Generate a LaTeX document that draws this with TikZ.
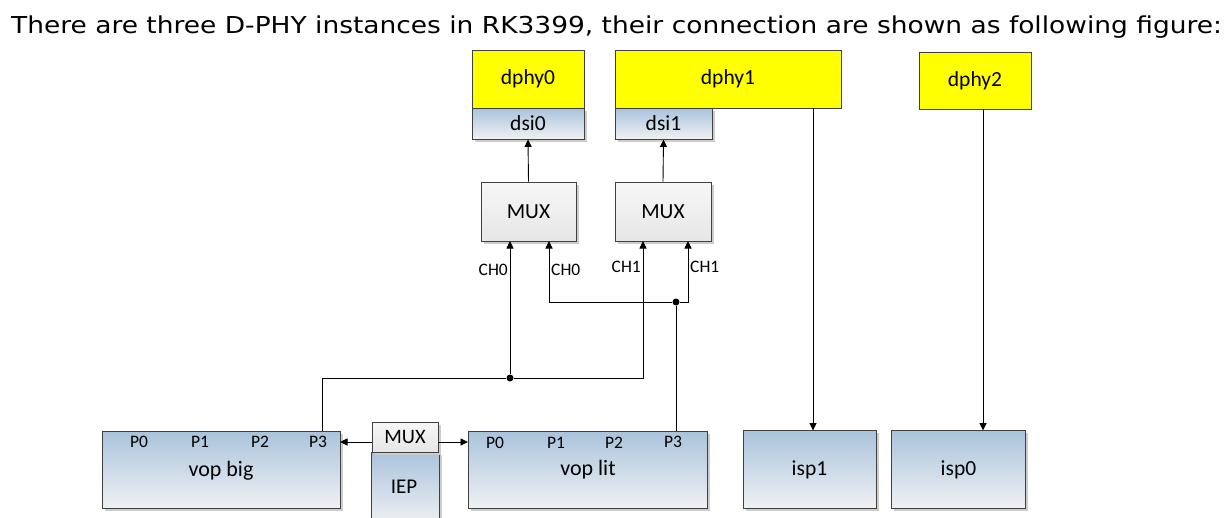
\documentclass[tikz,border=0pt]{standalone}
\usepackage{fontspec}
\setmainfont{Carlito}
\newfontfamily\titlefont[FakeStretch=1.135]{DejaVu Sans}
\usetikzlibrary{arrows.meta,shadows}
\definecolor{edge}{RGB}{64,64,64}
\definecolor{phyyellow}{RGB}{255,255,0}
\definecolor{bluetop}{RGB}{169,195,220}
\definecolor{bluebot}{RGB}{240,241,243}
\definecolor{greytop}{RGB}{247,247,247}
\definecolor{greybot}{RGB}{230,230,230}
\definecolor{shadowgrey}{RGB}{205,205,205}
\tikzset{
  box/.style={draw=edge, line width=0.9pt, inner sep=0pt, font=\fontsize{21.5}{24}\selectfont},
  yel/.style={box, fill=phyyellow},
  blu/.style={box, top color=bluetop, bottom color=bluebot, drop shadow={shadow xshift=2.5pt, shadow yshift=-2.5pt, fill=shadowgrey, opacity=1}},
  mux/.style={box, top color=greytop, bottom color=greybot, drop shadow={shadow xshift=2.5pt, shadow yshift=-2.5pt, fill=shadowgrey, opacity=1}},
  wire/.style={line width=0.9pt, black},
  arr/.style={wire, -{Triangle[length=7.5pt,width=7pt]}},
  dot/.style={circle, fill=black, inner sep=0pt, minimum size=7pt},
  plab/.style={font=\fontsize{17.5}{19}\selectfont, inner sep=0pt},
  vlab/.style={font=\fontsize{22}{24}\selectfont, inner sep=0pt},
  chlab/.style={font=\fontsize{17.5}{19}\selectfont, inner sep=0pt},
}
\begin{document}
\begin{tikzpicture}[x=1pt,y=-1pt]
\useasboundingbox (0,0) rectangle (1232,517);
\fill[white] (0,0) rectangle (1232,517);
\node[anchor=base west, inner sep=0pt, font=\titlefont\fontsize{23.3}{26}\selectfont] (title) at (11,33) {There are three D-PHY instances in RK3399, their connection are shown as following figure:};
% top boxes
\node[yel, minimum width=112pt, minimum height=58pt] (dphy0) at (528,79) {dphy0};
\node[blu, minimum width=112pt, minimum height=31pt] (dsi0) at (528,123.5) {dsi0};
\node[yel, minimum width=226pt, minimum height=58pt] (dphy1) at (728,79) {dphy1};
\node[blu, minimum width=97pt, minimum height=31pt] (dsi1) at (663.5,123.5) {dsi1};
\node[yel, minimum width=112pt, minimum height=57pt] (dphy2) at (975,80.5) {dphy2};
% muxes
\node[mux, minimum width=95pt, minimum height=59pt] (mux0) at (528.5,211.5) {MUX};
\node[mux, minimum width=96pt, minimum height=59pt] (mux1) at (663,211.5) {MUX};
% bottom boxes
\node[blu, minimum width=238pt, minimum height=77pt] (vopbig) at (221,469.5) {};
\node[blu, minimum width=239pt, minimum height=77pt] (voplit) at (587.5,469.5) {};
\node[blu, minimum width=68pt, minimum height=72pt] (iep) at (405,488) {};
\node[mux, minimum width=66pt, minimum height=30pt, font=\fontsize{20.5}{22}\selectfont] (vmux) at (405,437) {MUX};
\node[inner sep=0pt, font=\fontsize{21}{24}\selectfont] (ieplab) at (404,487) {IEP};
\node[blu, minimum width=133pt, minimum height=78pt] (isp1) at (809.5,469.5) {isp1};
\node[blu, minimum width=134pt, minimum height=78pt] (isp0) at (958.5,469.5) {isp0};
% labels in vop boxes
\node[plab] (bp0) at (139,442) {P0};
\node[plab] (bp1) at (200,442) {P1};
\node[plab] (bp2) at (260,442) {P2};
\node[plab] (bp3) at (318,442) {P3};
\node[vlab] (vbl) at (221,471) {vop big};
\node[plab] (lp0) at (495,443) {P0};
\node[plab] (lp1) at (556,443) {P1};
\node[plab] (lp2) at (614,443) {P2};
\node[plab] (lp3) at (673,442) {P3};
\node[vlab] (vll) at (588,470) {vop lit};
% CH labels
\node[chlab, anchor=east] (ch0a) at (508,270) {CH0};
\node[chlab, anchor=west] (ch0b) at (551,270) {CH0};
\node[chlab, anchor=east] (ch1a) at (641,267) {CH1};
\node[chlab, anchor=west] (ch1b) at (690,267) {CH1};
% coordinates
\coordinate (m0a) at (510,241);
\coordinate (m0b) at (549,241);
\coordinate (m1a) at (643,241);
\coordinate (m1b) at (688,241);
\node[dot] (j1) at (676,302) {};
\node[dot] (j2) at (510,378) {};
\coordinate (bigtop) at (322,431);
\coordinate (littop) at (676,431);
\coordinate (d1out) at (813,108);
\coordinate (isp1in) at (813,430.5);
\coordinate (d2out) at (983,109);
\coordinate (isp0in) at (983,430.5);
\coordinate (vmuxl) at (372,442);
\coordinate (vmuxr) at (438,442);
\coordinate (bigr) at (340,442);
\coordinate (litl) at (468,442);
% connectors
\draw[arr] (mux0.north) -- (dsi0.south);
\draw[arr] (mux1.north) -- (dsi1.south);
\draw[arr] (d1out) -- (isp1in);
\draw[arr] (d2out) -- (isp0in);
\draw[wire] (littop) -- (j1);
\draw[arr] (j1) -- (m1b |- j1) -- (m1b);
\draw[arr] (j1) -- (m0b |- j1) -- (m0b);
\draw[wire] (bigtop) -- (bigtop |- j2) -- (j2);
\draw[arr] (j2) -- (m1a |- j2) -- (m1a);
\draw[arr] (j2) -- (m0a);
\draw[arr] (vmuxl) -- (bigr);
\draw[arr] (vmuxr) -- (litl);
\end{tikzpicture}
\end{document}
